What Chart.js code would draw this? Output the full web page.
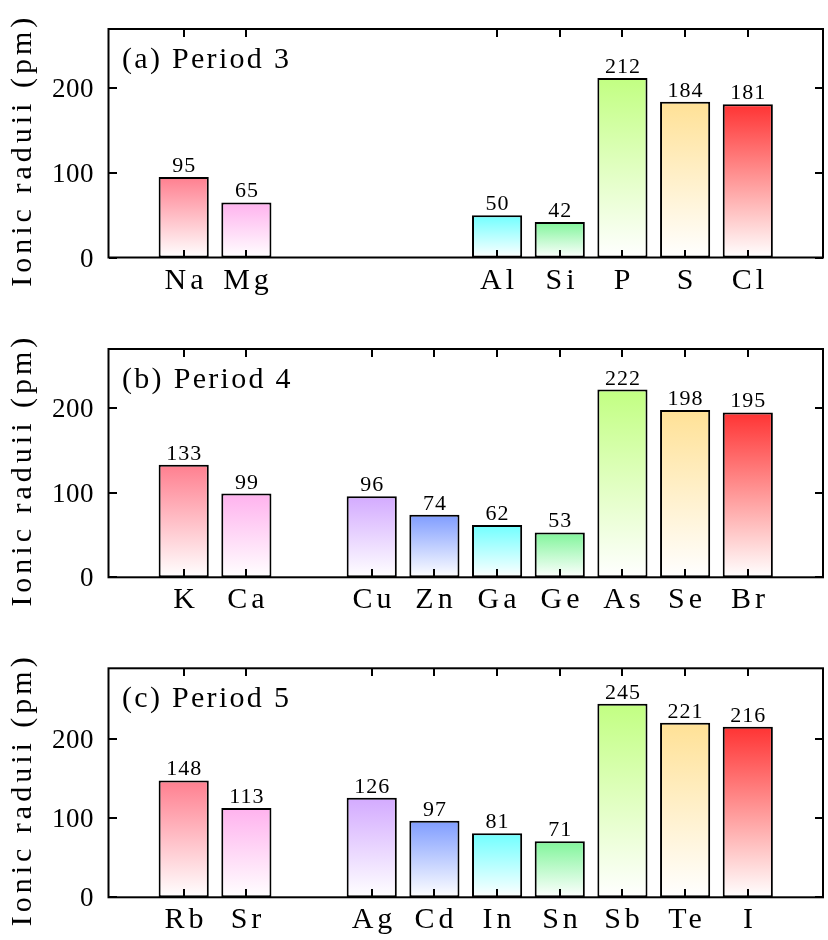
<!DOCTYPE html>
<html>
<head>
<meta charset="utf-8">
<script src="https://cdn.jsdelivr.net/npm/chart.js@4.4.1/dist/chart.umd.min.js"></script>
<style>
  html, body { margin: 0; padding: 0; background: #ffffff; }
  body { width: 828px; height: 940px; position: relative; overflow: hidden; }
  .panel { position: absolute; left: 0; width: 828px; }
  canvas { display: block; }
</style>
</head>
<body>
<div class="panel" style="top:0px;height:310px"><canvas id="p3" width="828" height="310"></canvas></div>
<div class="panel" style="top:320px;height:310px"><canvas id="p4" width="828" height="310"></canvas></div>
<div class="panel" style="top:640px;height:300px"><canvas id="p5" width="828" height="300"></canvas></div>
<script>
// ---- data ----
const period3Labels = ['Na', 'Mg', '', '', '', 'Al', 'Si', 'P', 'S', 'Cl'];
const period3Values = [95, 65, null, null, null, 50, 42, 212, 184, 181];
const period4Labels = ['K', 'Ca', '', 'Cu', 'Zn', 'Ga', 'Ge', 'As', 'Se', 'Br'];
const period4Values = [133, 99, null, 96, 74, 62, 53, 222, 198, 195];
const period5Labels = ['Rb', 'Sr', '', 'Ag', 'Cd', 'In', 'Sn', 'Sb', 'Te', 'I'];
const period5Values = [148, 113, null, 126, 97, 81, 71, 245, 221, 216];
const yTickValues = [0, 100, 200];
const panelTitles = ['(a) Period 3', '(b) Period 4', '(c) Period 5'];
const yAxisTitle = 'Ionic raduii (pm)';

// ---- style ----
const columnColors = ['#ff7f8f', '#ffb2ee', null, '#d3aaff', '#7f9cff', '#70ffff', '#80f59a', '#c2ff82', '#ffe196', '#ff3333'];
const SERIF = "'Liberation Serif', 'DejaVu Serif', serif";

function txt(ctx, s, x, y, size, ls, align) {
  ctx.font = size + 'px ' + SERIF;
  ctx.letterSpacing = ls + 'px';
  ctx.textAlign = align;
  ctx.textBaseline = 'alphabetic';
  let dx = 0;
  if (align === 'center') dx = ls / 2;
  else if (align === 'right') dx = ls;
  ctx.fillText(s, x + dx, y);
}

function makePanel(id, labels, values, yMax, title, areaTop, areaBottom, canvasH) {
  const ctxEl = document.getElementById(id);
  const points = values.map((v, i) => ({ x: i, y: v }));

  const framePlugin = {
    id: 'frame' + id,
    afterDraw(chart) {
      const { ctx, chartArea: a, scales } = chart;
      ctx.save();
      ctx.setLineDash([]);
      ctx.strokeStyle = '#000000';
      ctx.fillStyle = '#000000';
      const tl = 8;
      // x ticks (inward, bottom and top) + labels
      for (let i = 0; i < labels.length; i++) {
        if (!labels[i]) continue;
        const px = Math.round(scales.x.getPixelForValue(i));
        ctx.fillRect(px - 1, Math.round(a.bottom) - tl, 2, tl);
        ctx.fillRect(px - 1, Math.round(a.top), 2, tl);
        txt(ctx, labels[i], px, a.bottom + 31, 30, 4, 'center');
      }
      // y ticks (inward, left and right) + labels
      for (const v of yTickValues) {
        const py = Math.round(scales.y.getPixelForValue(v));
        ctx.fillRect(Math.round(a.left), py - 1, tl, 2);
        ctx.fillRect(Math.round(a.right) - tl, py - 1, tl, 2);
        txt(ctx, String(v), a.left - 15, py + 9, 27, 0.5, 'right');
      }
      // frame
      ctx.lineWidth = 2;
      ctx.strokeRect(a.left, a.top, a.right - a.left, a.bottom - a.top);
      // value labels
      const meta = chart.getDatasetMeta(0);
      meta.data.forEach((bar, i) => {
        const v = values[i];
        if (v == null) return;
        txt(ctx, String(v), bar.x, bar.y - 5, 22, 1, 'center');
      });
      // panel title
      txt(ctx, title, a.left + 13.5, a.top + 38.5, 30, 2.3, 'left');
      // y axis title
      ctx.save();
      ctx.translate(31, (a.top + a.bottom) / 2 + 9);
      ctx.rotate(-Math.PI / 2);
      txt(ctx, yAxisTitle, 0, 0, 30, 4, 'center');
      ctx.restore();
      ctx.restore();
    }
  };

  return new Chart(ctxEl, {
    type: 'bar',
    data: {
      datasets: [{
        data: points,
        borderColor: '#000',
        borderWidth: 2,
        borderSkipped: false,
        barPercentage: 1.0,
        categoryPercentage: 0.8,
        backgroundColor(c) {
          const chart = c.chart;
          const a = chart.chartArea;
          const col = columnColors[c.dataIndex] || '#ffffff';
          if (!a || c.raw == null || c.raw.y == null) return col;
          const yS = chart.scales.y;
          const top = yS.getPixelForValue(c.raw.y);
          const bot = yS.getPixelForValue(0);
          const g = chart.ctx.createLinearGradient(0, top, 0, bot);
          g.addColorStop(0, col);
          g.addColorStop(1, '#ffffff');
          return g;
        }
      }]
    },
    options: {
      responsive: false,
      animation: false,
      events: [],
      layout: { padding: { top: areaTop, right: 5, left: 0, bottom: 0 } },
      plugins: { legend: { display: false }, tooltip: { enabled: false } },
      scales: {
        x: {
          type: 'linear',
          offset: false,
          min: -1.2,
          max: 10.2,
          grid: { display: false, drawTicks: false },
          border: { display: false },
          ticks: { display: false },
          afterFit(scale) { scale.height = canvasH - areaBottom; }
        },
        y: {
          min: 0,
          max: yMax,
          grid: { display: false, drawTicks: false },
          border: { display: false },
          ticks: { display: false },
          afterFit(scale) { scale.width = 108.5; }
        }
      }
    },
    plugins: [framePlugin]
  });
}

makePanel('p3', period3Labels, period3Values, 270, panelTitles[0], 29, 257.5, 310);
makePanel('p4', period4Labels, period4Values, 270, panelTitles[1], 29, 257.3, 310);
makePanel('p5', period5Labels, period5Values, 290, panelTitles[2], 28.3, 257.3, 300);
</script>
</body>
</html>
